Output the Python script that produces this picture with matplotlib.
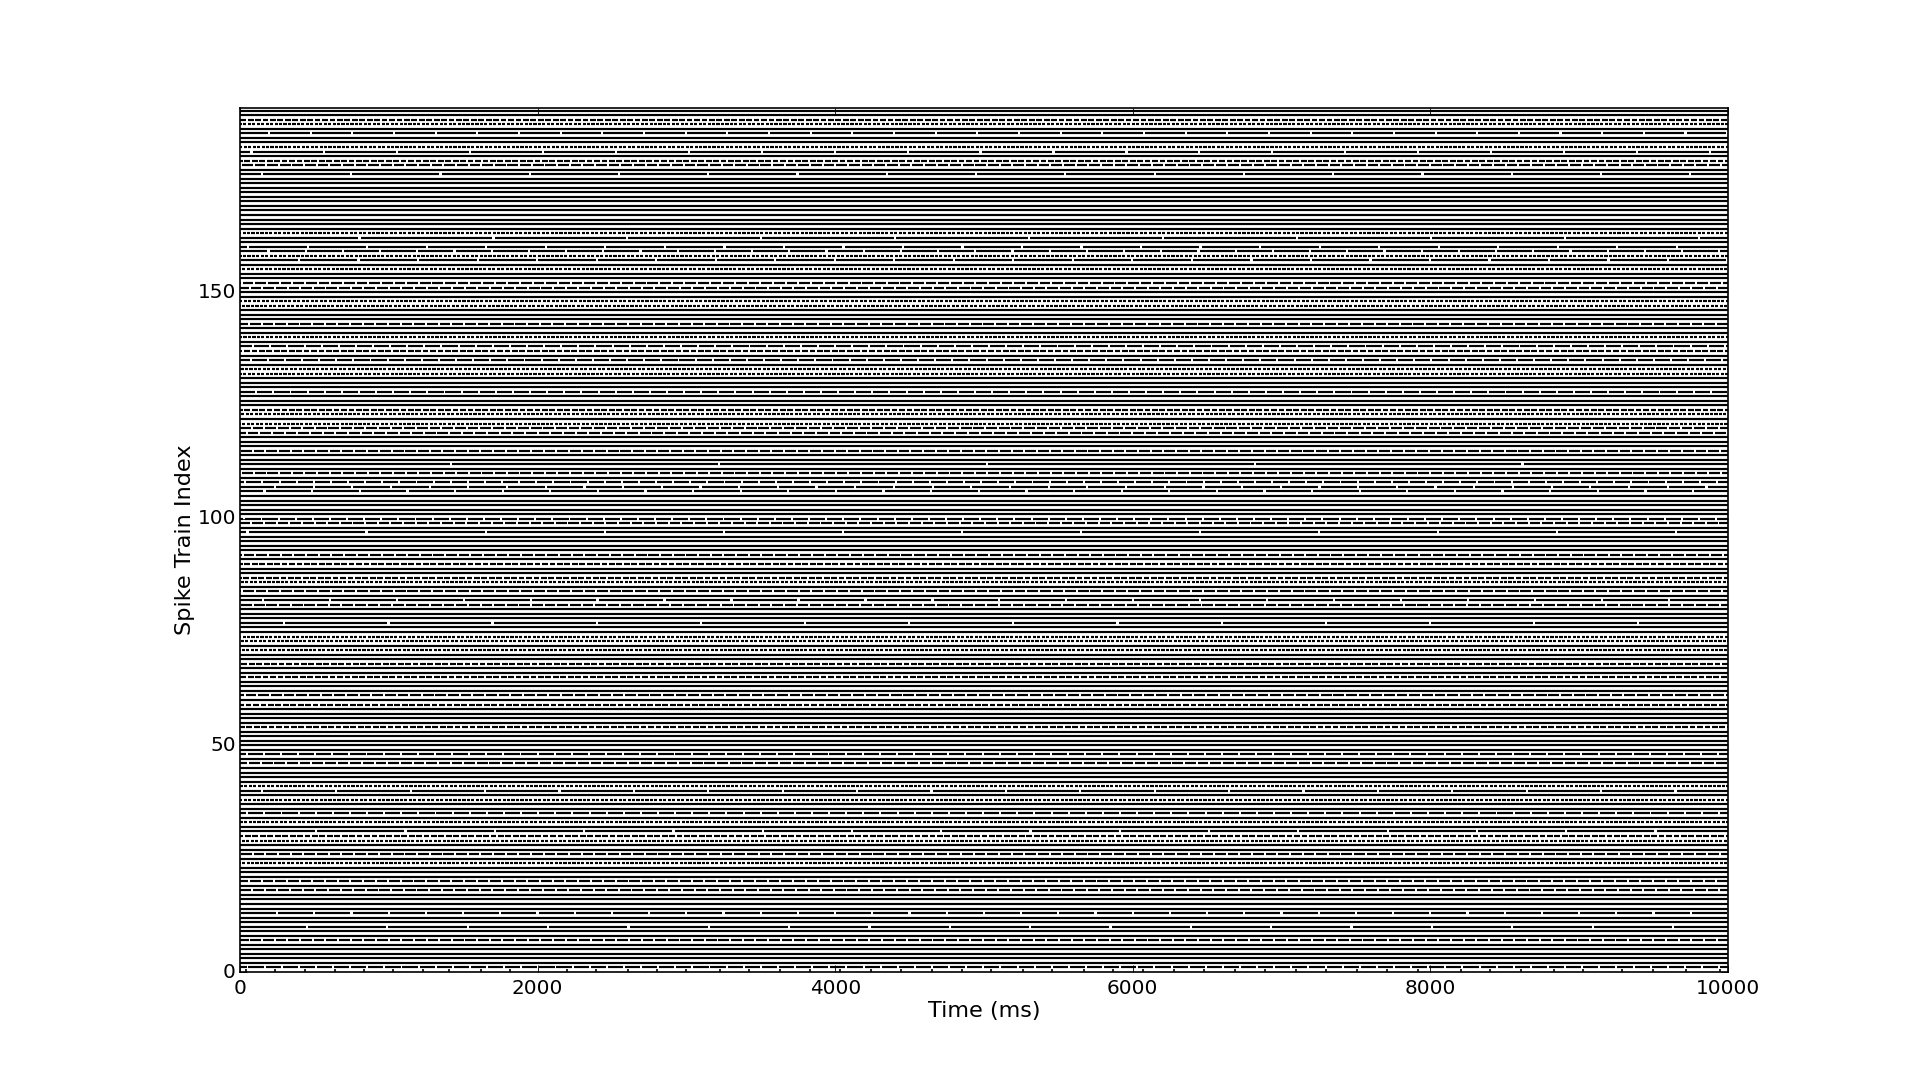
import numpy as np
import matplotlib
matplotlib.use("Agg")
import matplotlib.pyplot as plt

plt.style.use("classic")

t_end = 10000  # ms

# firing pattern of each spike train, index 0 at the bottom
# S = tonic (solid), . = fast bursts, d = short bursts, D = medium bursts,
# M = long bursts, L = long runs with rare pauses, T = sparse single spikes
row_codes = [
    "T", "M", "S", "S", "S", "S", "S", "D", "S", "S",      # 0-9
    "L", "S", "S", "L", "S", "S", "S", "S", "D", "S",      # 10-19
    "D", "S", "S", "S", ".", "S", "D", "S", "S", ".",      # 20-29
    "d", "L", "S", ".", "S", "M", "S", "S", ".", "S",      # 30-39
    "L", ".", "S", "S", "S", "S", "D", "S", "M", "S",      # 40-49
    "S", "S", "S", "S", "d", "S", "S", "S", "S", "d",      # 50-59
    "S", "D", "S", "S", "S", "d", "S", "S", "d", "S",      # 60-69
    "S", ".", "S", ".", ".", "S", "S", "L", "S", "S",      # 70-79
    "S", "D", "L", "S", "D", "S", ".", "d", "S", "S",      # 80-89
    "d", "S", "D", "S", "S", "S", "S", "L", "S", "D",      # 90-99
    "M", "S", "S", "S", "S", "S", "L", "L", "M", "S",      # 100-109
    "D", "S", "L", "S", "S", "D", "S", "S", "S", "D",      # 110-119
    "D", ".", "S", ".", "d", "S", "S", "S", "M", "S",      # 120-129
    "S", "S", ".", ".", "S", "M", "S", "d", "M", "S",      # 130-139
    ".", "S", "S", "D", "S", "S", "S", ".", ".", "S",      # 140-149
    "S", "D", "D", "S", "S", ".", "S", "L", ".", "L",      # 150-159
    "L", "S", "L", ".", "S", "S", "S", "S", "S", "S",      # 160-169
    "S", "S", "S", "S", "S", "S", "L", "S", "D", "d",      # 170-179
    "S", "L", ".", "S", "S", "L", "S", ".", "d", "S",      # 180-189
    "S",                                                   # 190
]

# burst period and pause length (ms) for each pattern
pattern_period = {".": 30, "d": 50, "D": 85, "M": 115}
pattern_pause = {".": 9, "d": 11, "D": 13, "M": 13}

# period (ms) between pauses for the long-run trains
long_period = {10: 540, 13: 250, 31: 600, 40: 500, 77: 700, 82: 450,
               97: 800, 106: 320, 107: 260, 112: 1800, 157: 400, 159: 250,
               160: 400, 162: 900, 176: 600, 181: 490, 185: 280}

# spike times (ms) of train 0
train0_spikes = [38, 238, 434, 640, 836, 1031, 1227, 1407, 1618, 1813,
                 2199, 2395, 2606, 2802, 2997, 3228, 3420, 3630, 3830, 4030,
                 4240, 4440, 4650, 4850, 5050, 5260, 5460, 5670, 5870, 6070,
                 6280, 6480, 6690, 6890, 7100, 7300, 7510, 7710, 7920, 8205,
                 8400, 8606, 8829, 9023, 9285, 9498, 9717, 9946]

seg_y, seg_x0, seg_x1 = [], [], []
for i, code in enumerate(row_codes):
    if code == "T":
        continue
    if code == "S":
        seg_y.append(i)
        seg_x0.append(0)
        seg_x1.append(t_end)
        continue
    if code == "L":
        period, pause = long_period[i], 15
    else:
        period, pause = pattern_period[code], pattern_pause[code]
    phase = ((i * 0.618) % 1.0) * period
    starts = np.arange(-phase, t_end, period)
    x0 = np.clip(starts + pause, 0, t_end)
    x1 = np.clip(starts + period, 0, t_end)
    keep = x1 > x0
    seg_y.extend([i] * int(keep.sum()))
    seg_x0.extend(x0[keep])
    seg_x1.extend(x1[keep])

fig = plt.figure(figsize=(16, 9), dpi=120)
ax = fig.add_subplot(111)
ax.hlines(seg_y, seg_x0, seg_x1, colors="k", linewidth=1.3)
ax.vlines(train0_spikes, 0, 0.6, colors="k", linewidth=1.0)

ax.set_xlim(0, t_end)
ax.set_ylim(0, 190.6)
ax.tick_params(axis="y", pad=2.5)
ax.set_xlabel("Time (ms)", fontsize=13.4, labelpad=2)
ax.set_ylabel("Spike Train Index", fontsize=13.4, labelpad=1.5)

fig.savefig("out.png", dpi=120, facecolor="white")
